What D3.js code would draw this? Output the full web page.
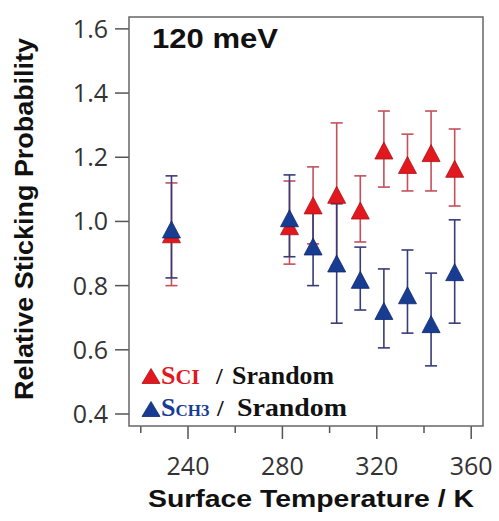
<!DOCTYPE html>
<html>
<head>
<meta charset="utf-8">
<script src="https://d3js.org/d3.v7.min.js"></script>
<style type="text/css">
  body { margin: 0; background: #fff; }
  .tick-label { font-family: "Open Sans", sans-serif; font-size: 25px; fill: #333; }
  .axis-title { font-family: "Liberation Sans", Arial, sans-serif; font-weight: bold; fill: #111; }
  .legend-text { font-family: "Liberation Serif", "Times New Roman", serif; font-weight: bold; }
</style>
</head>
<body>
<svg id="chart" width="499" height="521"></svg>
<script>

// surface temperature (K)
const temps = [233, 283, 293, 303, 313, 323, 333, 343, 353];

// S_Cl / S_random
const clValues = [0.96, 0.985, 1.05, 1.083, 1.034, 1.221, 1.176, 1.213, 1.164];
const clHigh   = [1.12, 1.126, 1.17, 1.307, 1.142, 1.344, 1.272, 1.344, 1.288];
const clLow    = [0.80, 0.867, 0.93, 0.86, 0.936, 1.107, 1.095, 1.095, 1.048];

// S_CH3 / S_random
const ch3Values = [0.975, 1.01, 0.922, 0.869, 0.818, 0.721, 0.770, 0.68, 0.842];
const ch3High   = [1.142, 1.145, 1.04, 1.055, 0.92, 0.852, 0.911, 0.839, 1.005];
const ch3Low    = [0.824, 0.89, 0.80, 0.683, 0.724, 0.606, 0.652, 0.55, 0.683];

const yTicks = [0.4, 0.6, 0.8, 1.0, 1.2, 1.4, 1.6];
const xMajorTicks = [240, 280, 320, 360];
const xMinorTicks = [220, 260, 300, 340];

const redFill = '#e2181f', redEdge = '#b01018', redBar = '#c4505a';
const blueFill = '#183c92', blueEdge = '#10296a', blueBar = '#383c78';

const chart = d3.select('#chart');
const margin = { top: 17, right: 16, bottom: 95, left: 129 };
const width = 499 - margin.left - margin.right;
const height = 521 - margin.top - margin.bottom;

const x = d3.scaleLinear().domain([215, 365]).range([0, width]);
const y = d3.scaleLinear().domain([0.3626, 1.637]).range([height, 0]);

const g = chart.append('g')
  .attr('transform', `translate(${margin.left} ${margin.top})`);

// y axis ticks + labels
const yAxis = g.append('g');
yAxis.selectAll('line').data(yTicks).join('line')
  .attr('x1', -14).attr('x2', 0)
  .attr('y1', d => y(d)).attr('y2', d => y(d))
  .attr('stroke', '#555').attr('stroke-width', 1.5);
yAxis.selectAll('text').data(yTicks).join('text')
  .attr('class', 'tick-label')
  .attr('x', -21)
  .attr('y', d => y(d))
  .attr('dy', '0.36em')
  .attr('text-anchor', 'end')
  .text(d => d.toFixed(1));

// x axis ticks + labels
const xAxis = g.append('g').attr('transform', `translate(0 ${height})`);
xAxis.selectAll('line.major').data(xMajorTicks).join('line')
  .attr('class', 'major')
  .attr('x1', d => x(d)).attr('x2', d => x(d))
  .attr('y1', 0).attr('y2', 13)
  .attr('stroke', '#555').attr('stroke-width', 1.5);
xAxis.selectAll('line.minor').data(xMinorTicks).join('line')
  .attr('class', 'minor')
  .attr('x1', d => x(d)).attr('x2', d => x(d))
  .attr('y1', 0).attr('y2', 7)
  .attr('stroke', '#555').attr('stroke-width', 1.5);
xAxis.selectAll('text').data(xMajorTicks).join('text')
  .attr('class', 'tick-label')
  .attr('x', d => x(d))
  .attr('y', 49)
  .attr('text-anchor', 'middle')
  .text(d => d);

// frame
g.append('rect')
  .attr('width', width).attr('height', height)
  .attr('fill', 'none')
  .attr('stroke', '#666').attr('stroke-width', 1.5);

// axis titles
chart.append('text')
  .attr('class', 'axis-title')
  .attr('transform', 'translate(33 219) rotate(-90)')
  .attr('text-anchor', 'middle')
  .attr('font-size', 25)
  .attr('textLength', 362)
  .attr('lengthAdjust', 'spacingAndGlyphs')
  .text('Relative Sticking Probability');

chart.append('text')
  .attr('class', 'axis-title')
  .attr('x', 311).attr('y', 507)
  .attr('text-anchor', 'middle')
  .attr('font-size', 24)
  .attr('textLength', 326)
  .attr('lengthAdjust', 'spacingAndGlyphs')
  .text('Surface Temperature / K');

chart.append('text')
  .attr('class', 'axis-title')
  .attr('x', 152).attr('y', 48)
  .attr('font-size', 28)
  .attr('textLength', 126)
  .attr('lengthAdjust', 'spacingAndGlyphs')
  .text('120 meV');

// triangle centred on its bounding box
function tri(w, h) {
  return `M0,${-h / 2}L${w / 2},${h / 2}L${-w / 2},${h / 2}Z`;
}

const clData = temps.map((t, i) => ({ t: t, v: clValues[i], hi: clHigh[i], lo: clLow[i] }));
const ch3Data = temps.map((t, i) => ({ t: t, v: ch3Values[i], hi: ch3High[i], lo: ch3Low[i] }));

function errorBars(data, color) {
  const eb = g.append('g').attr('stroke', color).attr('stroke-width', 1.6);
  eb.selectAll('line.v').data(data).join('line')
    .attr('x1', d => x(d.t)).attr('x2', d => x(d.t))
    .attr('y1', d => y(d.hi)).attr('y2', d => y(d.lo));
  eb.selectAll('line.hi').data(data).join('line')
    .attr('x1', d => x(d.t) - 6).attr('x2', d => x(d.t) + 6)
    .attr('y1', d => y(d.hi)).attr('y2', d => y(d.hi));
  eb.selectAll('line.lo').data(data).join('line')
    .attr('x1', d => x(d.t) - 6).attr('x2', d => x(d.t) + 6)
    .attr('y1', d => y(d.lo)).attr('y2', d => y(d.lo));
}

function markers(data, fill, edge) {
  g.append('g').selectAll('path').data(data).join('path')
    .attr('d', tri(18, 17))
    .attr('transform', d => `translate(${x(d.t)} ${y(d.v)})`)
    .attr('fill', fill)
    .attr('stroke', edge).attr('stroke-width', 0.8);
}

errorBars(clData, redBar);
errorBars(ch3Data, blueBar);
markers(clData, redFill, redEdge);
markers(ch3Data, blueFill, blueEdge);

// legend
const legend = [
  { sub: 'CI', subSize: 22, fill: redFill, edge: redEdge, ty: 376, base: 384, slash: 216, sx: 232, sl: 102 },
  { sub: 'CH3', subSize: 17, fill: blueFill, edge: blueEdge, ty: 409, base: 416, slash: 217, sx: 237, sl: 110 }
];
legend.forEach(l => {
  chart.append('path')
    .attr('d', tri(18, 15))
    .attr('transform', `translate(151 ${l.ty})`)
    .attr('fill', l.fill).attr('stroke', l.edge).attr('stroke-width', 0.8);
  const t = chart.append('text')
    .attr('class', 'legend-text')
    .attr('x', 161).attr('y', l.base)
    .attr('fill', l.fill);
  t.append('tspan').attr('font-size', 26).text('S');
  t.append('tspan').attr('font-size', l.subSize).text(l.sub);
  chart.append('text')
    .attr('class', 'legend-text')
    .attr('x', l.slash).attr('y', l.base)
    .attr('font-size', 24).attr('fill', '#111')
    .text('/');
  chart.append('text')
    .attr('class', 'legend-text')
    .attr('x', l.sx).attr('y', l.base)
    .attr('font-size', 26).attr('fill', '#111')
    .attr('textLength', l.sl)
    .attr('lengthAdjust', 'spacingAndGlyphs')
    .text('Srandom');
});

</script>
</body>
</html>
